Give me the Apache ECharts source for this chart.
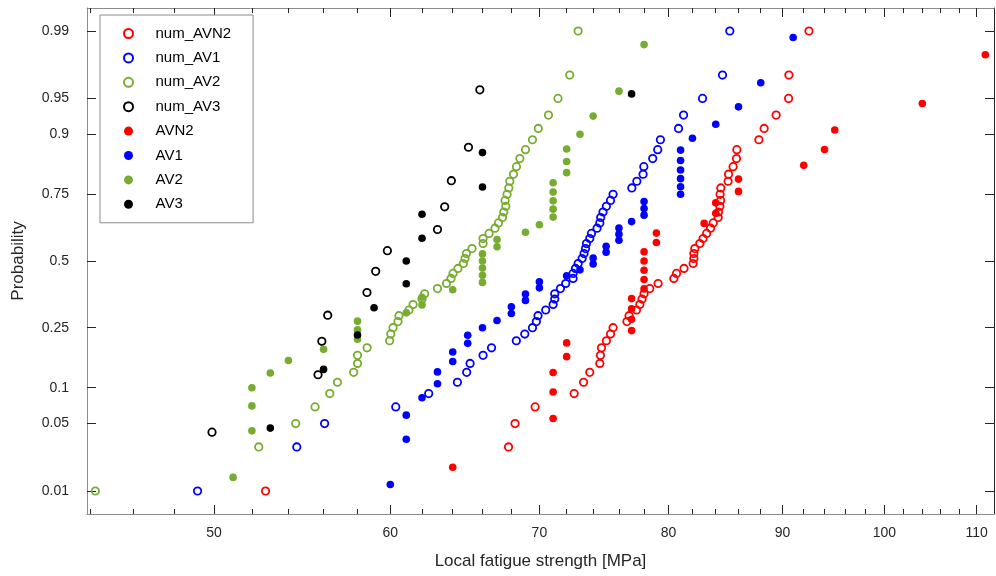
<!DOCTYPE html>
<html>
<head>
<meta charset="utf-8">
<script src="https://cdn.jsdelivr.net/npm/echarts@6/dist/echarts.min.js"></script>
<style>
html,body{margin:0;padding:0;background:#fff;}
#chart{width:996px;height:576px;}
</style>
</head>
<body>
<div id="chart"></div>
<script>
// ---- tick definitions ----
const xMajorTicks = [50, 60, 70, 80, 90, 100, 110];
const xMinorTicks = [44, 46, 48, 52, 54, 56, 58, 62, 64, 66, 68, 72, 74, 76, 78, 82, 84, 86, 88, 92, 94, 96, 98, 102, 104, 106, 108];
const yTickProbs = [0.01, 0.05, 0.1, 0.25, 0.5, 0.75, 0.9, 0.95, 0.99];
const yTickLabels = ['0.01', '0.05', '0.1', '0.25', '0.5', '0.75', '0.9', '0.95', '0.99'];

// ---- probabilities (plotting positions) ----
const pNum = [0.01,0.03,0.05,0.07,0.09,0.11,0.13,0.15,0.17,0.19,0.21,0.23,0.25,0.27,0.29,0.31,0.33,0.35,0.37,0.39,0.41,0.43,0.45,0.47,0.49,0.51,0.53,0.55,0.57,0.59,0.61,0.63,0.65,0.67,0.69,0.71,0.73,0.75,0.77,0.79,0.81,0.83,0.85,0.87,0.89,0.91,0.93,0.95,0.97,0.99];
const pNumAV3 = [0.0417,0.125,0.2083,0.2917,0.375,0.4583,0.5417,0.625,0.7083,0.7917,0.875,0.9583];
const pAVN2 = [0.0185,0.0556,0.0926,0.1296,0.1667,0.2037,0.2407,0.2778,0.3148,0.3519,0.3889,0.4259,0.463,0.5,0.537,0.5741,0.6111,0.6481,0.6852,0.7222,0.7593,0.7963,0.8333,0.8704,0.9074,0.9444,0.9815];
const pAV1 = [0.0119,0.0357,0.0595,0.0833,0.1071,0.131,0.1548,0.1786,0.2024,0.2262,0.25,0.2738,0.2976,0.3214,0.3452,0.369,0.3929,0.4167,0.4405,0.4643,0.4881,0.5119,0.5357,0.5595,0.5833,0.6071,0.631,0.6548,0.6786,0.7024,0.7262,0.75,0.7738,0.7976,0.8214,0.8452,0.869,0.8929,0.9167,0.9405,0.9643,0.9881];
const pAV2 = [0.0143,0.0429,0.0714,0.1,0.1286,0.1571,0.1857,0.2143,0.2429,0.2714,0.3,0.3286,0.3571,0.3857,0.4143,0.4429,0.4714,0.5,0.5286,0.5571,0.5857,0.6143,0.6429,0.6714,0.7,0.7286,0.7571,0.7857,0.8143,0.8429,0.8714,0.9,0.9286,0.9571,0.9857];
const pAV3 = [0.0455,0.1364,0.2273,0.3182,0.4091,0.5,0.5909,0.6818,0.7727,0.8636,0.9545];

// ---- local fatigue strength values [MPa] ----
const numAVN2 = [52.74,67.8,68.26,69.69,72.56,73.27,73.74,74.51,74.56,74.64,75.02,75.34,75.54,76.63,76.8,77.39,77.66,77.84,78.0,78.46,79.14,80.44,80.66,81.29,82.06,82.12,82.12,82.2,82.63,82.91,83.21,83.55,83.78,84.21,84.24,84.36,84.42,84.38,84.44,85.08,85.12,85.52,85.82,85.85,87.83,88.31,89.41,90.57,90.6,92.5];
const numAV1 = [49.16,54.47,56.06,60.34,62.43,64.31,64.93,65.16,66.04,66.62,68.35,68.95,69.5,69.78,69.9,70.46,71.0,71.12,71.12,71.54,71.93,72.48,72.48,72.66,72.86,73.16,73.31,73.42,73.49,73.74,73.87,74.3,74.51,74.58,74.76,75.02,75.34,75.54,77.02,77.42,77.92,77.98,78.7,79.11,79.33,80.83,81.25,82.86,84.59,85.23];
const numAV2 = [44.23,52.37,54.41,55.51,56.36,56.81,57.77,58.0,58.0,58.58,59.96,60.03,60.17,60.48,60.54,61.17,61.43,62.0,62.17,63.0,63.59,63.89,64.02,64.35,64.71,64.82,64.91,65.29,66.04,66.04,66.45,66.86,67.1,67.38,67.47,67.61,67.56,67.7,67.82,67.89,68.15,68.36,68.6,69.0,69.5,69.92,70.66,71.36,72.23,72.86];
const numAV3 = [49.9,55.68,55.9,56.24,58.57,59.1,59.82,63.0,63.47,63.91,65.05,65.82];
const AVN2 = [64,71,71,71,72,72,77,77,77,77,78,78,78,78,78,79,79,83,84,84,86,86,92,94,95,104,111];
const AV1 = [60,61,61,62,63,63,64,64,65,65,66,67,68,68,69,69,70,70,72,73,74,74,75,75,76,76,76,77,78,78,78,81,81,81,81,81,81,82,84,86,88,91];
const AV2 = [51,52,52,52,53,54,56,58,58,58,61,62,62,64,66,66,66,66,66,67,67,69,70,71,71,71,71,71,72,72,72,73,74,76,78];
const AV3 = [53,56,58,59,61,61,62,62,66,66,77];

// inverse standard normal CDF (normal probability scale)
function norminv(p){
  const a=[-3.969683028665376e+01,2.209460984245205e+02,-2.759285104469687e+02,1.383577518672690e+02,-3.066479806614716e+01,2.506628277459239e+00];
  const b=[-5.447609879822406e+01,1.615858368580409e+02,-1.556989798598866e+02,6.680131188771972e+01,-1.328068155288572e+01];
  const c=[-7.784894002430293e-03,-3.223964580411365e-01,-2.400758277161838e+00,-2.549732539343734e+00,4.374664141464968e+00,2.938163982698783e+00];
  const d=[7.784695709041462e-03,3.224671290700398e-01,2.445134137142996e+00,3.754408661907416e+00];
  const pl=0.02425, ph=1-pl; let q,r;
  if(p<pl){q=Math.sqrt(-2*Math.log(p));return (((((c[0]*q+c[1])*q+c[2])*q+c[3])*q+c[4])*q+c[5])/((((d[0]*q+d[1])*q+d[2])*q+d[3])*q+1);}
  if(p<=ph){q=p-0.5;r=q*q;return (((((a[0]*r+a[1])*r+a[2])*r+a[3])*r+a[4])*r+a[5])*q/(((((b[0]*r+b[1])*r+b[2])*r+b[3])*r+b[4])*r+1);}
  q=Math.sqrt(-2*Math.log(1-p));return -(((((c[0]*q+c[1])*q+c[2])*q+c[3])*q+c[4])*q+c[5])/((((d[0]*q+d[1])*q+d[2])*q+d[3])*q+1);
}
const yTickZ = yTickProbs.map(norminv);
const pairs = (xs, ps) => xs.map((x, i) => [x, norminv(ps[i])]);

const FONT = '"Liberation Sans", Arial, sans-serif';
const TXT = '#262626';
const X_MIN = 43.85, X_MAX = 112.0, Y_LIM = 2.559;

function xAxisDef(pos, ticks, len, showLine, showLabel, lineColor, extra){
  return Object.assign({
    type: 'log', logBase: 10, min: X_MIN, max: X_MAX, position: pos,
    axisLine: {show: showLine, onZero: false, lineStyle: {color: lineColor, width: 1}},
    axisTick: {show: true, inside: true, length: len, customValues: ticks, lineStyle: {color: TXT, width: 1}},
    axisLabel: {show: showLabel, customValues: ticks, formatter: v => String(Math.round(v)), margin: 12, fontSize: 14, color: TXT, fontFamily: FONT},
    splitLine: {show: false}, minorTick: {show: false}, minorSplitLine: {show: false}
  }, extra || {});
}
function yAxisDef(pos, showLabel, lineColor, extra){
  return Object.assign({
    type: 'value', min: -Y_LIM, max: Y_LIM, position: pos,
    axisLine: {show: true, onZero: false, lineStyle: {color: lineColor, width: 1}},
    axisTick: {show: true, inside: true, length: 9, customValues: yTickZ, lineStyle: {color: TXT, width: 1}},
    axisLabel: {show: showLabel, customValues: yTickZ, margin: 18, fontSize: 14, color: TXT, fontFamily: FONT,
      formatter: v => { const i = yTickZ.findIndex(z => Math.abs(z - v) < 1e-6); return i >= 0 ? yTickLabels[i] : ''; }},
    splitLine: {show: false}
  }, extra || {});
}

const openS = (name, xs, ps, color) => ({
  name, type: 'scatter', xAxisIndex: 0, yAxisIndex: 0, symbol: 'circle', symbolSize: 7.4,
  itemStyle: {color: 'rgba(255,255,255,0)', borderColor: color, borderWidth: 1.8, opacity: 1},
  data: pairs(xs, ps)
});
const fillS = (name, xs, ps, color) => ({
  name, type: 'scatter', xAxisIndex: 0, yAxisIndex: 0, symbol: 'circle', symbolSize: 7.6,
  itemStyle: {color: color, opacity: 1}, data: pairs(xs, ps)
});

const chart = echarts.init(document.getElementById('chart'), null, {renderer: 'canvas'});
chart.setOption({
  animation: false,
  backgroundColor: '#fff',
  grid: {left: 87, right: 2, top: 8, bottom: 62, containLabel: false},
  legend: {
    orient: 'vertical', left: 100, top: 15, padding: [10, 22, 10, 23],
    itemWidth: 44, itemHeight: 9, itemGap: 7.4,
    borderColor: '#8c8c8c', borderWidth: 1, backgroundColor: '#fff',
    textStyle: {fontSize: 15, color: '#000', fontFamily: FONT, lineHeight: 17},
    data: ['num_AVN2', 'num_AV1', 'num_AV2', 'num_AV3', 'AVN2', 'AV1', 'AV2', 'AV3']
  },
  xAxis: [
    xAxisDef('bottom', xMajorTicks, 9, true, true, '#8c8c8c', {
      name: 'Local fatigue strength [MPa]', nameLocation: 'middle', nameGap: 39,
      nameTextStyle: {fontSize: 17, color: TXT, fontFamily: FONT}
    }),
    xAxisDef('bottom', xMinorTicks, 5, false, false, '#8c8c8c'),
    xAxisDef('top', xMajorTicks, 9, true, false, '#8c8c8c'),
    xAxisDef('top', xMinorTicks, 5, false, false, '#8c8c8c')
  ],
  yAxis: [
    yAxisDef('left', true, '#8c8c8c', {
      name: 'Probability', nameLocation: 'middle', nameGap: 60, nameRotate: 90,
      nameTextStyle: {fontSize: 17, color: TXT, fontFamily: FONT}
    }),
    yAxisDef('right', false, '#262626')
  ],
  series: [
    openS('num_AVN2', numAVN2, pNum, '#ff0000'),
    openS('num_AV1', numAV1, pNum, '#0000ff'),
    openS('num_AV2', numAV2, pNum, '#77ac30'),
    openS('num_AV3', numAV3, pNumAV3, '#000000'),
    fillS('AVN2', AVN2, pAVN2, '#ff0000'),
    fillS('AV1', AV1, pAV1, '#0000ff'),
    fillS('AV2', AV2, pAV2, '#77ac30'),
    fillS('AV3', AV3, pAV3, '#000000')
  ]
});
</script>
</body>
</html>
